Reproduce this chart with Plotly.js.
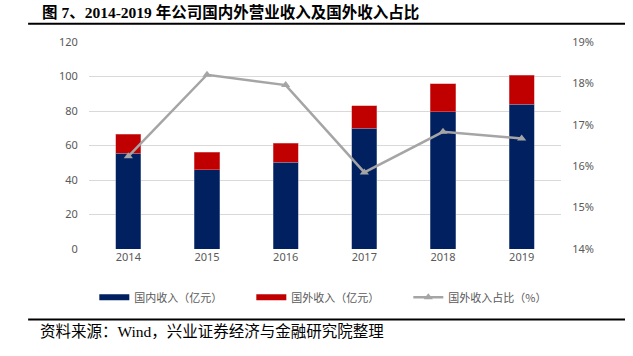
<!DOCTYPE html>
<html>
<head>
<meta charset="utf-8">
<script src="https://cdn.plot.ly/plotly-3.0.1.min.js"></script>
<style>
html,body{margin:0;padding:0;background:#fff;}
#chart{width:633px;height:356px;}
</style>
</head>
<body>
<div id="chart"></div>
<script>
const years = ['2014', '2015', '2016', '2017', '2018', '2019'];
const domesticRevenue = [55.4, 45.9, 50.4, 69.9, 79.7, 83.9];
const foreignRevenue = [11.0, 10.2, 10.8, 13.1, 16.2, 16.8];
const foreignShare = [0.1624, 0.1821, 0.1796, 0.1585, 0.1683, 0.1667];
const leftTicks = [0, 20, 40, 60, 80, 100, 120];
const rightTicks = [0.14, 0.15, 0.16, 0.17, 0.18, 0.19];

const navy = '#002060', red = '#C00000', grey = '#A5A5A5';
const cjk = '"Noto Sans CJK SC", "Noto Sans", sans-serif';
const tickFont = {family: '"Noto Sans", "Noto Sans CJK SC", sans-serif', size: 11, color: '#595959'};

const traces = [
  {type: 'bar', x: years, y: domesticRevenue, name: '国内收入（亿元）', marker: {color: navy, line: {color: '#7f8fb0', width: 0.5}}, showlegend: false, hoverinfo: 'skip'},
  {type: 'bar', x: years, y: foreignRevenue, name: '国外收入（亿元）', marker: {color: red, line: {color: '#e08080', width: 0.5}}, showlegend: false, hoverinfo: 'skip'},
  {type: 'scatter', mode: 'lines', x: [null], y: [null], name: '国内收入（亿元）', line: {color: navy, width: 6}, showlegend: true},
  {type: 'scatter', mode: 'lines', x: [null], y: [null], name: '国外收入（亿元）', line: {color: red, width: 6}, showlegend: true},
  {type: 'scatter', mode: 'lines+markers', x: years, y: foreignShare, yaxis: 'y2', name: '国外收入占比（%）', line: {color: grey, width: 2.5}, marker: {symbol: 'triangle-up', size: 8, color: grey}, hoverinfo: 'skip'}
];

const layout = {
  width: 633, height: 356,
  margin: {l: 89, r: 72, t: 42, b: 107},
  paper_bgcolor: '#fff', plot_bgcolor: '#fff',
  barmode: 'stack', bargap: 0.68,
  showlegend: true,
  legend: {orientation: 'h', xref: 'container', yref: 'container', x: 0.149, xanchor: 'left', y: 0.165, yanchor: 'middle', bgcolor: 'rgba(0,0,0,0)',
           font: {family: cjk, size: 11, color: '#595959'}, entrywidth: 112, itemwidth: 30, tracegroupgap: 0, traceorder: 'normal'},
  xaxis: {type: 'category', tickfont: tickFont, showgrid: false, showline: false, ticks: '', zeroline: false},
  yaxis: {range: [0, 120], tickvals: leftTicks, tickfont: tickFont, gridcolor: '#D9D9D9', gridwidth: 1, zeroline: false, showline: false, ticks: 'outside', ticklen: 8, tickcolor: 'rgba(0,0,0,0)'},
  yaxis2: {overlaying: 'y', side: 'right', range: [0.14, 0.19], tickvals: rightTicks, tickformat: '.0%', tickfont: tickFont, showgrid: false, zeroline: false, showline: false, ticks: 'outside', ticklen: 8, tickcolor: 'rgba(0,0,0,0)'},
  shapes: [
    {type: 'line', xref: 'paper', yref: 'paper', x0: -0.129, x1: 1.1356, y0: 1.088, y1: 1.088, line: {color: '#000', width: 2}},
    {type: 'line', xref: 'paper', yref: 'paper', x0: -0.129, x1: 1.1356, y0: -0.340, y1: -0.340, line: {color: '#000', width: 2}}
  ],
  annotations: [
    {xref: 'paper', yref: 'paper', x: -0.104, y: 1.143, xanchor: 'left', yanchor: 'middle', showarrow: false,
     text: '<b>图 7、2014-2019 年公司国内外营业收入及国外收入占比</b>', font: {family: '"Liberation Serif", "Noto Sans CJK SC", serif', size: 15.5, color: '#000'}},
    {xref: 'paper', yref: 'paper', x: -0.108, y: -0.396, xanchor: 'left', yanchor: 'middle', showarrow: false,
     text: '资料来源：Wind，兴业证券经济与金融研究院整理', font: {family: '"Liberation Serif", "Noto Sans CJK SC", serif', size: 15.5, color: '#000'}}
  ]
};

Plotly.newPlot('chart', traces, layout, {displayModeBar: false, staticPlot: true});
</script>
</body>
</html>
